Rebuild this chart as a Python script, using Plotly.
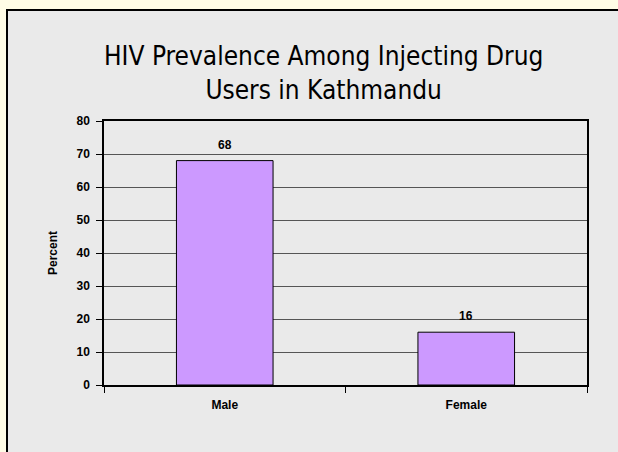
import plotly.graph_objects as go

categories = ["Male", "Female"]
values = [68, 16]
y_ticks = [0, 10, 20, 30, 40, 50, 60, 70, 80]
title_text = "HIV Prevalence Among Injecting Drug<br>Users in Kathmandu"
y_title = "Percent"

W, H = 618, 452
L, R, T, B = 104, 31, 121, 67
pw, ph = W - L - R, H - T - B

def px_x(px):
    return (px - L) / pw

def px_y(py):
    return (H - B - py) / ph

bold = dict(family="Liberation Sans, Arial, sans-serif", size=12, color="black", weight="bold")

fig = go.Figure()
fig.add_trace(go.Bar(
    x=categories, y=values,
    marker=dict(color="#CC99FF", line=dict(color="black", width=1)),
    width=0.4, hoverinfo="skip", showlegend=False,
))

for c, v in zip(categories, values):
    fig.add_annotation(x=c, y=v, text=str(v), showarrow=False, yshift=16,
                       font=bold, xref="x", yref="y")

fig.add_annotation(text=title_text, x=px_x(323.5), y=px_y(73), xref="paper", yref="paper",
                   xanchor="center", yanchor="middle", showarrow=False,
                   font=dict(family="DejaVu Sans Condensed, Liberation Sans Narrow, sans-serif", size=26, color="black"))

fig.add_shape(type="rect", xref="paper", yref="paper",
              x0=px_x(7), x1=px_x(640), y0=px_y(10), y1=px_y(470),
              fillcolor="#EAEAEA", line=dict(color="black", width=2), layer="below")

fig.update_layout(
    width=W, height=H,
    margin=dict(l=L, r=R, t=T, b=B, pad=0),
    paper_bgcolor="#FFFCE6", plot_bgcolor="#EAEAEA",
    bargap=0.6,
)
fig.update_xaxes(
    showline=True, linecolor="black", linewidth=1.5, mirror=True,
    ticks="outside", ticklen=6, tickcolor="black", tickson="boundaries",
    tickfont=bold, showgrid=False, ticklabelstandoff=8,
)
fig.update_yaxes(
    range=[0, 80], tickvals=y_ticks, showline=True, linecolor="black", linewidth=1.5, mirror=True,
    ticks="outside", ticklen=6, tickcolor="black", tickfont=bold, ticklabelstandoff=4,
    showgrid=True, gridcolor="#555555", gridwidth=1.3, zeroline=False,
    title=dict(text=y_title, font=bold, standoff=16),
)

fig.write_html("out.html")
